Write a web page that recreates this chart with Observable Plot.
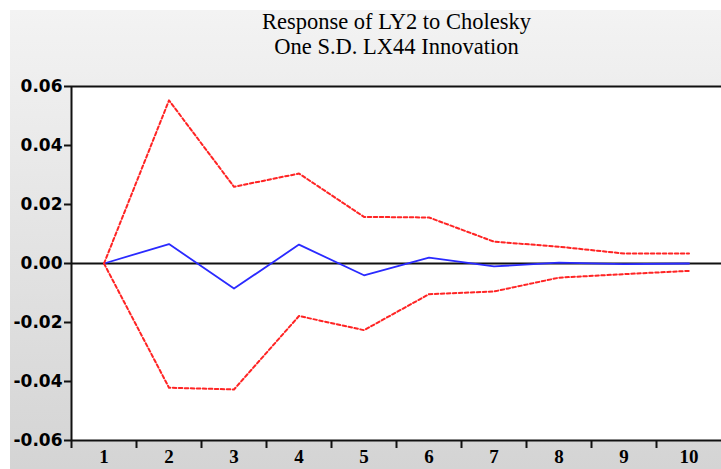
<!DOCTYPE html>
<html>
<head>
<meta charset="utf-8">
<script src="https://cdn.jsdelivr.net/npm/d3@7"></script>
<script src="https://cdn.jsdelivr.net/npm/@observablehq/plot@0.6"></script>
<style>
  html, body { margin: 0; padding: 0; background: #ffffff; }
  #wrap { position: relative; width: 721px; height: 469px; overflow: hidden; }
  #panel { position: absolute; left: 10px; top: 10px; right: 0; bottom: 0;
           background: linear-gradient(#f3f3f3, #d4d4d4); }
  #title { position: relative; height: 62px; width: 721px; box-sizing: border-box;
           padding-left: 72px; padding-top: 9px;
           font-family: "Liberation Serif", "Times New Roman", serif; font-size: 22.5px;
           line-height: 25px; text-align: center; color: #000; }
  #chart { position: relative; }
  #chart svg { display: block; background: transparent; }
</style>
</head>
<body>
<div id="wrap">
  <div id="panel"></div>
  <div id="title"><div>Response of LY2 to Cholesky</div><div>One S.D. LX44 Innovation</div></div>
  <div id="chart"></div>
</div>
<script>
const periods = [1, 2, 3, 4, 5, 6, 7, 8, 9, 10];
const response = [0, 0.0066, -0.0085, 0.0064, -0.0040, 0.0020, -0.0010, 0.0003, -0.0002, 0.0000];
const upper = [0, 0.0553, 0.0260, 0.0305, 0.0158, 0.0156, 0.0074, 0.0057, 0.0034, 0.0034];
const lower = [0, -0.0421, -0.0427, -0.0178, -0.0226, -0.0104, -0.0095, -0.0048, -0.0036, -0.0025];
const yTicks = [-0.06, -0.04, -0.02, 0, 0.02, 0.04, 0.06];

const toRows = vals => periods.map((p, i) => ({period: p, value: vals[i]}));
const respRows = toRows(response);
const upRows = toRows(upper);
const loRows = toRows(lower);
const boundaries = periods.map(p => p - 0.5);

const chart = Plot.plot({
  width: 721,
  height: 407,
  marginLeft: 71,
  marginRight: 0,
  marginTop: 24,
  marginBottom: 29,
  style: {background: "transparent", overflow: "visible"},
  x: {domain: [0.5, 10.5], label: null},
  y: {domain: [-0.06, 0.06], label: null},
  marks: [
    Plot.frame({fill: "white", stroke: "none"}),
    Plot.ruleY([0], {stroke: "#111", strokeWidth: 2}),
    Plot.line(respRows, {x: "period", y: "value", stroke: "#2a2aff", strokeWidth: 1.8}),
    Plot.line(upRows, {x: "period", y: "value", stroke: "#ff2424", strokeWidth: 2, strokeDasharray: "3.5,2.5"}),
    Plot.line(loRows, {x: "period", y: "value", stroke: "#ff2424", strokeWidth: 2, strokeDasharray: "3.5,2.5"}),
    Plot.axisY({ticks: yTicks, label: null, tickSize: 7, tickPadding: 2, tickFormat: d => d.toFixed(2),
      fontSize: 17, fontWeight: "bold", fontFamily: "DejaVu Sans", stroke: "#111", strokeWidth: 2, color: "#000"}),
    Plot.axisX({ticks: boundaries, label: null, tickSize: 8, tickFormat: () => "", stroke: "#111", strokeWidth: 2}),
    Plot.axisX({ticks: periods, label: null, tickSize: 0, tickPadding: 9, tickFormat: d => String(d),
      fontSize: 19, fontWeight: "bold", fontFamily: "Liberation Serif", color: "#000"}),
    Plot.ruleX([0.5], {stroke: "#111", strokeWidth: 2}),
    Plot.ruleY([-0.06, 0.06], {stroke: "#111", strokeWidth: 2})
  ]
});
document.getElementById("chart").appendChild(chart);
</script>
</body>
</html>
